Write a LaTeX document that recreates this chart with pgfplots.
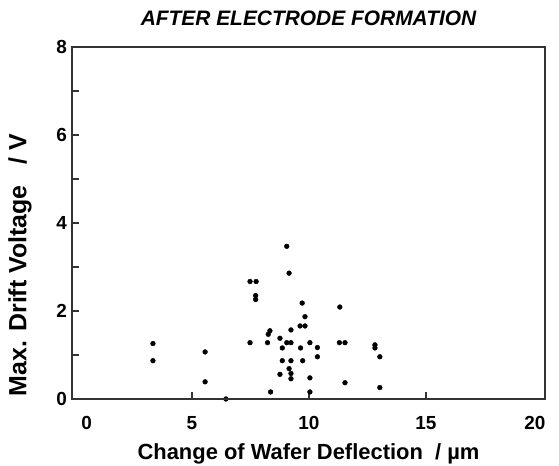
\documentclass[border=0pt]{standalone}
\usepackage{pgfplots}
\pgfplotsset{compat=1.18}
\usepackage{fontspec}
\setmainfont{Liberation Sans}
\begin{document}
\begin{tikzpicture}
\begin{axis}[
  scale only axis, width=473bp, height=352bp,
  xmin=-0.13, xmax=20.09, ymin=0, ymax=8,
  clip=false,
  axis line style={draw=black!80, line width=2pt},
  xtick={5,10,15}, xticklabels={},
  extra x ticks={0.5,5,10,15,19.66}, extra x tick labels={0,5,10,15,20},
  extra x tick style={major tick length=0pt},
  ytick={0,2,4,6,8},
  minor ytick={1,3,5,7},
  tick align=inside, major tick length=7bp, minor tick length=7bp,
  ytick pos=left, xtick pos=bottom,
  every tick/.style={draw=black!80, line width=1.5pt},
  ticklabel style={font=\fontsize{19}{22}\selectfont\bfseries, inner sep=0pt},
  /pgf/number format/assume math mode=true,
  xticklabel style={anchor=north, yshift=-17bp},
  yticklabel style={anchor=east, xshift=-5bp},
  xlabel={Change of Wafer Deflection\ \ / \textmu m},
  ylabel={Max. Drift Voltage\ \ \ / V},
  xlabel style={font=\fontsize{22}{26}\selectfont\bfseries, at={(axis description cs:0.5,-0.156)}, anchor=center},
  ylabel style={font=\fontsize{25}{29}\selectfont\bfseries, at={(axis description cs:-0.110,0.38)}, anchor=center},
  title={AFTER ELECTRODE FORMATION},
  title style={font=\fontsize{21}{25}\selectfont\bfseries\itshape, at={(axis description cs:0.5,1.065)}, anchor=center},
]
\addplot[only marks, mark=*, mark size=2.4bp, black] coordinates {
(3.33,1.26) (3.33,0.87) (5.56,1.07) (5.56,0.39) (6.45,0.0)
(7.48,2.67) (7.74,2.67) (7.72,2.35) (7.72,2.26) (7.48,1.28)
(9.05,3.47) (9.15,2.86) (9.71,2.18) (11.32,2.09) (9.83,1.87)
(9.62,1.66) (9.83,1.66) (9.23,1.57) (8.33,1.55) (8.26,1.47)
(8.23,1.28) (8.76,1.38) (9.05,1.28) (9.23,1.28) (8.86,1.16)
(9.64,1.16) (10.04,1.28) (10.36,1.17) (11.3,1.28) (11.54,1.28)
(12.82,1.23) (12.82,1.16) (10.36,0.96) (13.03,0.96)
(8.86,0.87) (9.23,0.87) (9.73,0.87)
(9.15,0.69) (9.23,0.58) (9.23,0.46) (8.76,0.56) (10.04,0.48)
(11.54,0.37) (13.03,0.26) (8.36,0.16) (10.04,0.16)
};
\coordinate (SW) at (rel axis cs:0,0);
\coordinate (NE) at (rel axis cs:1,1);
\end{axis}
\draw[black!80, line width=2pt] (SW) rectangle (NE);
\pgfresetboundingbox
\path ([shift={(-72bp,-67bp)}]SW) rectangle ([shift={(14bp,47bp)}]NE);
\end{tikzpicture}
\end{document}
